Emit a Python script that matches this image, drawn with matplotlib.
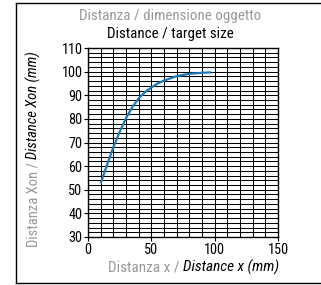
import matplotlib
matplotlib.use("Agg")
import matplotlib.pyplot as plt
from matplotlib.lines import Line2D

plt.rcParams['font.family'] = ['Roboto Condensed', 'Archivo Narrow', 'PT Sans Narrow', 'DejaVu Sans']

# data
x_vals = [10, 15, 20, 25, 30, 35, 40, 45, 50, 55, 60, 70, 80, 90, 97]
y_vals = [52.7, 60.5, 68, 74.5, 80.3, 85, 88.7, 91.3, 93.3, 95, 96.2, 98.1, 99.1, 99.5, 99.7]
x_ticks = [0, 50, 100, 150]
y_ticks = [30, 40, 50, 60, 70, 80, 90, 100, 110]
title_it = "Distanza / dimensione oggetto"
title_en = "Distance / target size"
xlabel_it = "Distanza x / "
xlabel_en = "Distance x (mm)"
ylabel_it = "Distanza Xon / "
ylabel_en = "Distance Xon (mm)"

W, H = 321, 285
fig = plt.figure(figsize=(W / 100, H / 100), dpi=100)
ax = fig.add_axes([88 / W, 1 - 237 / H, 190 / W, 189 / H])

ax.set_xlim(0, 150)
ax.set_ylim(30, 110)
ax.set_xticks(x_ticks)
ax.set_yticks(y_ticks)
ax.set_xticks(range(0, 151, 10), minor=True)
ax.set_yticks(range(30, 111, 2), minor=True)
ax.grid(True, which='both', color='black', linewidth=0.75)
ax.set_axisbelow(True)
ax.tick_params(which='minor', length=0)
ax.tick_params(which='major', length=3, width=0.8, labelsize=10.3, pad=1)
for s in ax.spines.values():
    s.set_linewidth(1.0)

ax.plot(x_vals, y_vals, color='#1a7ab8', linewidth=1.6, solid_capstyle='butt')

GRAY = '#999999'
fig.text(170 / W, 1 - 16 / H, title_it, ha='center', va='center', color=GRAY, fontsize=10.8)
fig.text(170 / W, 1 - 34 / H, title_en, ha='center', va='center', color='black', fontsize=10.8)

# x label composite
t1 = fig.text(108 / W, 1 - 267 / H, xlabel_it, ha='left', va='center', color=GRAY, fontsize=11)
ax.annotate(xlabel_en, xy=(1, 0.5), xycoords=t1, ha='left', va='center',
            color='black', fontsize=11, style='italic', annotation_clip=False)

# y label composite
t2 = fig.text(33 / W, 1 - 247 / H, ylabel_it, ha='center', va='bottom', color=GRAY,
              fontsize=10.5, rotation=90)
ax.annotate(ylabel_en, xy=(0.5, 1), xycoords=t2, ha='center', va='bottom',
            color='black', fontsize=10.5, style='italic', rotation=90, annotation_clip=False)

# outer frame (left, top, bottom)
fig.add_artist(Line2D([16 / W, 16 / W], [1 - 3 / H, 1 - 283 / H], color='black', linewidth=1.0))
fig.add_artist(Line2D([16 / W, 1], [1 - 3 / H, 1 - 3 / H], color='black', linewidth=1.0))
fig.add_artist(Line2D([16 / W, 1], [1 - 283 / H, 1 - 283 / H], color='black', linewidth=1.0))

fig.savefig('out.png', dpi=100)
